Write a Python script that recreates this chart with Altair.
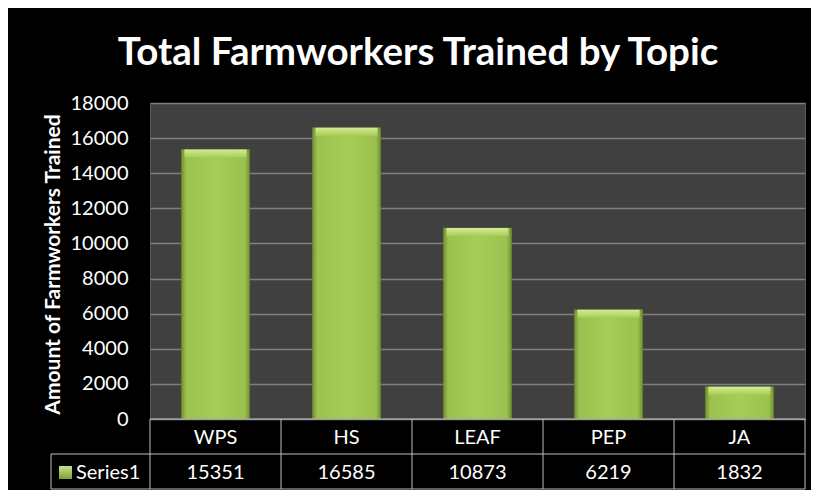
import altair as alt
import pandas as pd

# ---- data ----
categories = ["WPS", "HS", "LEAF", "PEP", "JA"]
values = [15351, 16585, 10873, 6219, 1832]
series_name = "Series1"
y_ticks = [0, 2000, 4000, 6000, 8000, 10000, 12000, 14000, 16000, 18000]
title_text = "Total Farmworkers Trained by Topic"
y_title = "Amount of Farmworkers Trained"

# ---- layout ----
W, H = 655, 316
PAD_L, PAD_T = 142, 95
TOTAL_W, TOTAL_H = 803, 482
ROW = 35
STEP = W / len(categories)
FONT = "Lato"
BORDER = "#bfbfbf"
FS = 20

df = pd.DataFrame({"topic": categories, "count": values})
one = pd.DataFrame({"label": [title_text], "series": [series_name]})

x_enc = alt.X("topic:N", sort=categories, axis=None,
              scale=alt.Scale(paddingInner=0.48, paddingOuter=0.24))
y_scale = alt.Scale(domain=[0, 18000], nice=False)
y_axis = alt.Axis(
    values=y_ticks, tickCount=10, title=y_title, grid=True, gridColor="#7f7f7f", gridWidth=1.3,
    domain=False, ticks=False, labelPadding=22, labelFontSize=FS, labelColor="white",
    labelOverlap=False, labelBaseline="middle", labelFlush=False,
    labelFont=FONT, titleFont=FONT, titleFontSize=21, titleFontWeight="bold",
    titleColor="white", titleAngle=-90, titleX=-97, titleY=H / 2 + 3,
    titleAlign="center", titleBaseline="middle", format="d",
)

bar_fill = alt.LinearGradient(
    gradient="linear", x1=0, x2=1, y1=0, y2=0,
    stops=[
        alt.GradientStop(offset=0, color="#738f33"),
        alt.GradientStop(offset=0.07, color="#9bc14e"),
        alt.GradientStop(offset=0.5, color="#a6cd57"),
        alt.GradientStop(offset=0.93, color="#9bc14e"),
        alt.GradientStop(offset=1, color="#738f33"),
    ],
)

bars = alt.Chart(df).mark_bar(fill=bar_fill, stroke="#6a8630", strokeWidth=0.8).encode(
    x=x_enc,
    y=alt.Y("count:Q", scale=y_scale, axis=y_axis),
)

bevel_fill = alt.LinearGradient(
    gradient="linear", x1=0, x2=0, y1=0, y2=1,
    stops=[
        alt.GradientStop(offset=0, color="#d2ec93"),
        alt.GradientStop(offset=1, color="#a6cd57"),
    ],
)
bevel = alt.Chart(df).mark_bar(fill=bevel_fill, y2Offset=8, width=62).encode(
    x=x_enc, y=alt.Y("count:Q", scale=y_scale, axis=y_axis), y2="count:Q"
)

header = alt.Chart(df).mark_text(fontSize=FS, color="white", font=FONT, baseline="middle").encode(
    x=x_enc, y=alt.value(H + ROW / 2 + 1), text="topic:N"
)
vals = alt.Chart(df).mark_text(fontSize=FS, color="white", font=FONT, baseline="middle").encode(
    x=x_enc, y=alt.value(H + ROW * 1.5 + 1), text=alt.Text("count:Q", format="d")
)

vlines = alt.Chart(df).mark_rule(color=BORDER, strokeWidth=1, xOffset=STEP / 2).encode(
    x=x_enc, y=alt.value(H), y2=alt.value(H + 2 * ROW)
)
base_one = alt.Chart(one)
hl_top = base_one.mark_rule(color=BORDER, strokeWidth=1).encode(
    x=alt.value(0), x2=alt.value(W), y=alt.value(H)
)
hl_mid = base_one.mark_rule(color=BORDER, strokeWidth=1).encode(
    x=alt.value(-99), x2=alt.value(W), y=alt.value(H + ROW)
)
hl_bot = base_one.mark_rule(color=BORDER, strokeWidth=1).encode(
    x=alt.value(-99), x2=alt.value(W), y=alt.value(H + 2 * ROW)
)
vl_left = base_one.mark_rule(color=BORDER, strokeWidth=1).encode(
    x=alt.value(0), y=alt.value(H), y2=alt.value(H + 2 * ROW)
)
vl_far = base_one.mark_rule(color=BORDER, strokeWidth=1).encode(
    x=alt.value(-99), y=alt.value(H + ROW), y2=alt.value(H + 2 * ROW)
)

key_fill = alt.LinearGradient(
    gradient="linear", x1=0, x2=0, y1=0, y2=1,
    stops=[
        alt.GradientStop(offset=0, color="#c5e383"),
        alt.GradientStop(offset=1, color="#7f9f3a"),
    ],
)
key = base_one.mark_rect(fill=key_fill).encode(
    x=alt.value(-91), x2=alt.value(-78), y=alt.value(H + ROW + 12), y2=alt.value(H + ROW + 25)
)
key_text = base_one.mark_text(fontSize=FS, color="white", font=FONT, align="left", baseline="middle").encode(
    x=alt.value(-74), y=alt.value(H + ROW * 1.5 + 1), text="series:N"
)

title = base_one.mark_text(fontSize=38.5, fontWeight="bold", color="white", font=FONT,
                           align="center", baseline="alphabetic").encode(
    x=alt.value(418 - 150), y=alt.value(65 - 103), text="label:N"
)

chart = alt.layer(
    bars, bevel, header, vals, vlines, hl_top, hl_mid, hl_bot, vl_left, vl_far, key, key_text, title
).properties(
    width=W, height=H,
    autosize=alt.AutoSizeParams(type="none"),
    padding={"left": PAD_L, "top": PAD_T, "right": TOTAL_W - PAD_L - W, "bottom": TOTAL_H - PAD_T - H},
    background="black",
).configure_view(fill="#404040", stroke="#595959")

chart.save("out.html", embed_options={"renderer": "svg", "actions": False})
